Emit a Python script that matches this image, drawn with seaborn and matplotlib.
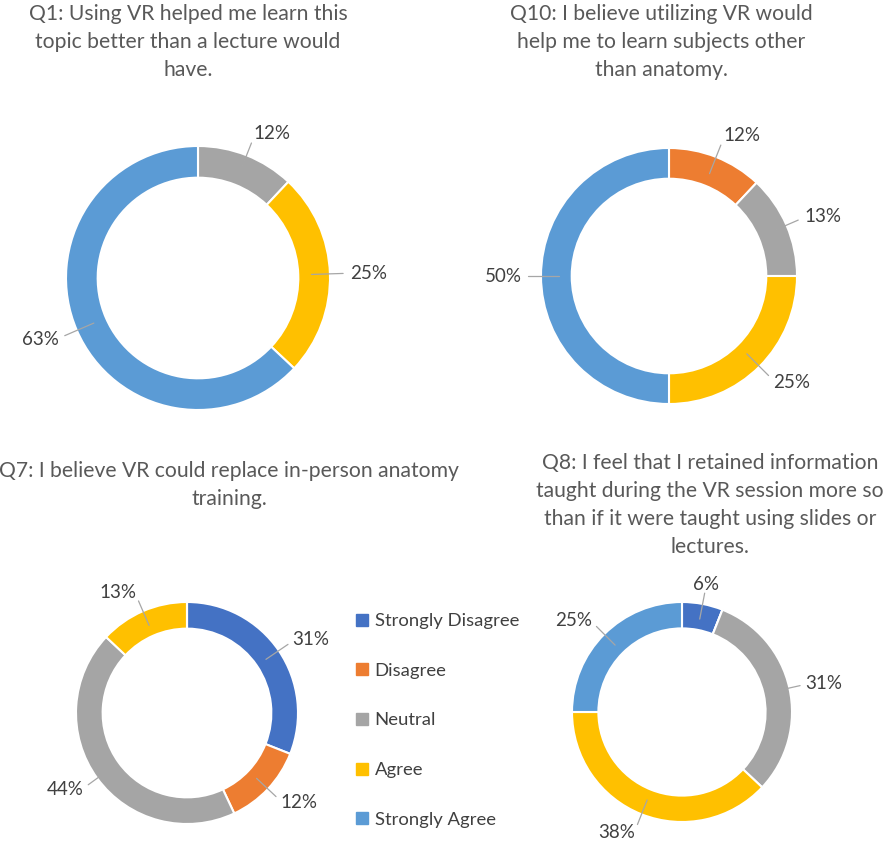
import numpy as np
import matplotlib.pyplot as plt
import seaborn as sns
from matplotlib.lines import Line2D

# Likert categories and their colours (Office palette)
categories = ["Strongly Disagree", "Disagree", "Neutral", "Agree", "Strongly Agree"]
colors = ["#4472C4", "#ED7D31", "#A5A5A5", "#FFC000", "#5B9BD5"]

# percentages per question, in category order
q1_values = [0, 0, 12, 25, 63]
q10_values = [0, 12, 13, 25, 50]
q7_values = [31, 12, 44, 13, 0]
q8_values = [6, 0, 31, 38, 25]

q1_title = ["Q1: Using VR helped me learn this", "topic better than a lecture would", "have."]
q10_title = ["Q10: I believe utilizing VR would", "help me to learn subjects other", "than anatomy."]
q7_title = ["Q7: I believe VR could replace in-person anatomy", "training."]
q8_title = ["Q8: I feel that I retained information", "taught during the VR session more so",
            "than if it were taught using slides or", "lectures."]

sns.set_theme(style="white")
plt.rcParams["font.family"] = ["Lato", "DejaVu Sans"]

W, H = 886, 844
TITLE_C = "#595959"
LABEL_C = "#404040"

fig = plt.figure(figsize=(W / 100, H / 100), dpi=100)
ax = fig.add_axes([0, 0, 1, 1])


def donut(values, cx, cy, r):
    # cx, cy in pixel coords from top-left
    y0 = H - cy
    wedges, _ = ax.pie(values, colors=colors, startangle=90, counterclock=False,
                       radius=r, center=(cx, y0),
                       wedgeprops=dict(width=0.24 * r, edgecolor="white", linewidth=1.5))
    for w, v in zip(wedges, values):
        if v == 0:
            continue
        mid = np.deg2rad((w.theta1 + w.theta2) / 2)
        c, s = np.cos(mid), np.sin(mid)
        ax.plot([cx + 0.86 * r * c, cx + 1.1 * r * c], [y0 + 0.86 * r * s, y0 + 1.1 * r * s],
                color="#A6A6A6", lw=0.9)
        ha = "left" if c > 0.25 else ("right" if c < -0.25 else "center")
        tx, ty = cx + 1.15 * r * c, y0 + 1.18 * r * s
        ax.text(tx, ty, f"{v}%", ha=ha, va="center", fontsize=13.5, color=LABEL_C)


def title(lines, cx, cy, step=28):
    for i, line in enumerate(lines):
        fig.text(cx / W, 1 - (cy + i * step) / H, line, ha="center", va="center",
                 fontsize=15.2, color=TITLE_C)


donut(q1_values, 198, 278, 132)
donut(q10_values, 669, 276, 128)
donut(q7_values, 187, 713, 111)
donut(q8_values, 682, 712, 110)

title(q1_title, 188, 14)
title(q10_title, 661, 14)
title(q7_title, 229, 471)
title(q8_title, 710, 463)

ax.set_xlim(0, W)
ax.set_ylim(0, H)
ax.set_aspect("equal")
ax.axis("off")

handles = [Line2D([], [], marker="s", linestyle="none", markersize=8,
                  markerfacecolor=col, markeredgecolor=col) for col in colors]
fig.legend(handles, categories, loc="upper left", bbox_to_anchor=(347 / W, 1 - 604 / H),
           frameon=False, fontsize=13.3, labelcolor=LABEL_C, handlelength=0.6,
           handletextpad=0.4, labelspacing=1.82, borderpad=0)

fig.savefig("out.png", dpi=100, facecolor="white")
